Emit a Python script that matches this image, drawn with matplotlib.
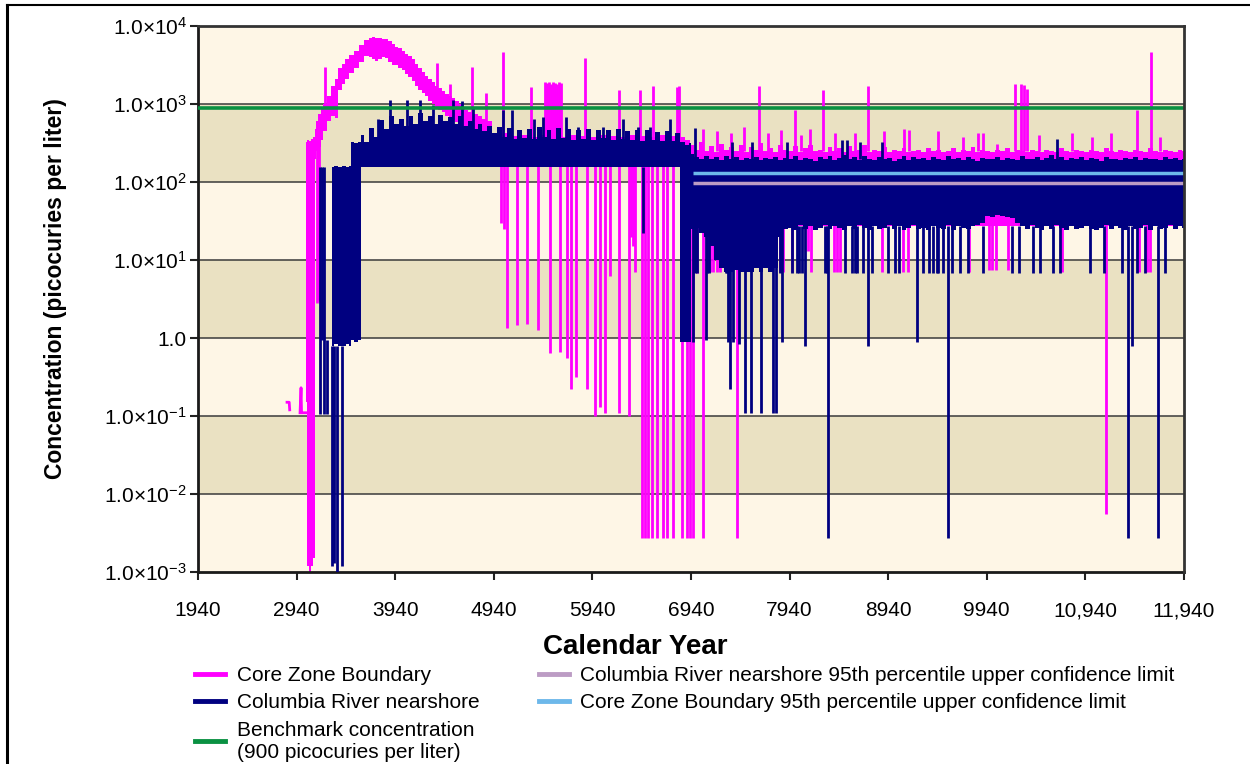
import numpy as np
import matplotlib
matplotlib.use('Agg')
import matplotlib.pyplot as plt
from matplotlib.lines import Line2D

plt.rcParams['font.family'] = ['Liberation Sans', 'DejaVu Sans']
plt.rcParams['mathtext.fontset'] = 'custom'
plt.rcParams['mathtext.rm'] = 'Liberation Sans'
plt.rcParams['mathtext.it'] = 'Liberation Sans:italic'
plt.rcParams['mathtext.bf'] = 'Liberation Sans:bold'

# ---------------- data ----------------
benchmark = 900
cz_ucl = 131          # Core Zone Boundary 95th UCL
cr_ucl = 96           # Columbia River nearshore 95th UCL
ucl_start = 6960

# Core Zone Boundary (magenta): first isolated bits
cz_early_years = [2843, 2865, 2870, np.nan, 2975, 2985, 2990, 3000, 3020, 3035]
cz_early_vals = [0.15, 0.15, 0.12, np.nan, 0.11, 0.23, 0.11, 0.11, 0.11, 0.11]

# rise + hump, envelope (upper / lower)
cz_hump_years = [3035, 3055, 3075, 3095, 3115, 3130, 3150, 3170, 3195, 3228, 3262, 3312,
                 3346, 3380, 3415, 3448, 3500, 3549, 3600, 3651, 3690, 3718, 3752, 3786,
                 3820, 3854, 3890, 3921, 3955, 3990, 4022, 4057, 4090, 4124, 4158, 4190,
                 4225, 4259, 4290, 4327, 4361, 4395, 4428, 4462, 4500, 4529, 4564, 4600,
                 4631, 4665, 4699, 4733, 4767, 4800, 4850, 4901]
cz_hump_hi = [330, 350, 340, 360, 380, 480, 600, 750, 900, 1000, 1260, 1700,
              2100, 2880, 3300, 3730, 4300, 4840, 5700, 6620, 7000, 7330, 7100, 6960,
              6900, 6900, 6400, 5950, 5400, 5200, 4840, 4400, 4100, 3730, 3300, 2900,
              2600, 2300, 2100, 1900, 1700, 1600, 1470, 1350, 1250, 1190, 1100, 1000,
              920, 850, 800, 750, 750, 700, 650, 610]
cz_hump_lo = [0.15, 0.0012, 0.001, 0.0012, 0.0015, 200, 250, 280, 350, 450, 600, 700,
              670, 1500, 1800, 2110, 2500, 2880, 3500, 4140, 4000, 3800, 3540, 3800,
              4000, 3930, 3500, 3200, 3200, 2900, 2700, 2460, 2200, 2000, 1715, 1500,
              1400, 1260, 1100, 1000, 920, 850, 800, 710, 650, 620, 580, 540,
              500, 490, 470, 440, 420, 400, 380, 350]

# plateau 4950-6900 (every 50 years), mostly hidden behind the navy series
cz_mid_start = 4950
cz_mid_hi = [380, 330, 420, 340, 390, 330, 400, 350, 380, 330,
             400, 340, 390, 330, 380, 350, 400, 330, 390, 340,
             380, 330, 400, 340, 390, 330, 380, 350, 400, 330,
             390, 340, 380, 330, 400, 340, 390, 330, 380, 350]
cz_mid_floor = 160

# 6950-11940 (every 50 years, last at 11940)
cz_late_hi = [300, 260, 330, 250, 290, 240, 310, 260, 280, 250,
              300, 240, 280, 260, 320, 250, 270, 240, 300, 260,
              250, 290, 240, 270, 300, 250, 260, 240, 280, 250,
              270, 240, 290, 250, 260, 300, 240, 260, 250, 280,
              240, 260, 250, 270, 240, 250, 260, 240, 270, 250,
              260, 240, 250, 270, 240, 260, 250, 280, 240, 260,
              250, 240, 260, 250, 270, 240, 260, 250, 240, 260,
              250, 240, 260, 250, 240, 270, 250, 240, 260, 250,
              240, 260, 250, 240, 270, 250, 240, 260, 250, 240,
              260, 250, 240, 270, 250, 240, 260, 250, 240, 260, 250]
cz_late_floor = 27

# magenta vertical excursions: year, top, bottom
cz_spikes = [
    (3150, 500, 2.8), (3165, 520, 3.0), (3228, 3000, 800), (4361, 3350, 1500),
    (4496, 1800, 900), (4716, 3000, 700), (4861, 1400, 600), (5030, 4650, 300),
    (5314, 1670, 300), (5460, 1900, 300), (5480, 1850, 300), (5500, 1900, 300),
    (5520, 1800, 300), (5540, 1900, 300), (5560, 1850, 300), (5580, 1800, 300),
    (5600, 1900, 300), (5620, 1850, 300), (5860, 3900, 300), (6213, 1500, 300),
    (6423, 1500, 300), (6554, 1700, 300), (6800, 1650, 300), (6815, 1700, 300),
    (7630, 1720, 250), (7995, 840, 250), (8276, 1490, 250), (8739, 1720, 250),
    (10226, 1800, 250), (10290, 1800, 250), (10315, 1750, 250), (10350, 1550, 250),
    (11004, 380, 250), (11463, 840, 250), (11606, 4600, 250),
    (7060, 480, 250), (7200, 450, 250), (7350, 420, 250), (7480, 500, 250),
    (7720, 430, 250), (7850, 460, 250), (8060, 400, 250), (8150, 480, 250),
    (8400, 420, 250), (8600, 430, 250), (8900, 450, 250), (9100, 480, 250),
    (9150, 470, 250), (9445, 445, 250), (9700, 380, 250), (9850, 420, 250),
    (9900, 420, 250), (10043, 310, 250), (10470, 400, 250), (10800, 430, 250),
    (11200, 420, 250), (11700, 380, 250),
    # drops
    (5010, 160, 30), (5040, 160, 25), (5071, 160, 1.35), (5178, 160, 1.45),
    (5274, 160, 1.5), (5388, 160, 1.25), (5510, 160, 0.65), (5611, 160, 0.66),
    (5679, 160, 0.55), (5720, 160, 0.22), (5774, 160, 0.32), (5882, 160, 0.22),
    (5966, 160, 0.1), (6017, 160, 0.13), (6068, 160, 0.11), (6118, 160, 6.3),
    (6213, 160, 0.11), (6314, 160, 0.1), (6330, 160, 20), (6350, 160, 15),
    (6372, 160, 7),
    (6440, 160, 0.0027), (6473, 160, 0.0027), (6507, 160, 0.0027), (6541, 160, 0.0027),
    (6592, 160, 0.0027), (6659, 160, 0.0027), (6693, 160, 0.0027), (6761, 160, 0.0027),
    (6846, 160, 0.0027), (6896, 160, 0.0027), (6930, 160, 0.0027), (6960, 160, 0.0027),
    (7062, 30, 0.0027), (7410, 30, 0.0027), (11150, 30, 0.0055),
    (6985, 30, 7), (7000, 30, 6.8), (7133, 30, 7), (7160, 30, 7), (7200, 30, 7),
    (7234, 30, 7), (7843, 30, 7), (7870, 30, 7), (7961, 30, 7), (8130, 30, 13),
    (8160, 30, 7), (8390, 30, 7), (8420, 30, 7), (8450, 30, 7), (8880, 30, 7),
    (9090, 30, 7), (9140, 30, 7), (9760, 30, 7), (9960, 30, 7.5), (9990, 30, 7.5),
    (10030, 30, 7.5), (10150, 30, 7.5), (10700, 30, 7), (11480, 30, 7),
    (11560, 30, 7), (11600, 30, 7),
]

# Columbia River nearshore (navy)
cr_early_years = [3300, 3340, 3380, 3420, 3460, 3490, 3500, 3540, 3580]
cr_early_hi = [158, 160, 158, 160, 158, 160, 330, 320, 330]
cr_early_lo = [0.8, 0.85, 0.8, 0.8, 0.85, 0.8, 0.93, 0.9, 0.95]

cr_mid_start = 3600   # every 50 years to 6800
cr_mid_hi = [400, 330, 490, 380, 620, 480, 700, 560, 650, 520,
             700, 560, 760, 600, 700, 560, 720, 600, 680, 560,
             700, 520, 600, 480, 560, 450, 520, 430, 500, 380,
             490, 360, 470, 370, 480, 360, 500, 380, 470, 360,
             490, 370, 480, 350, 470, 360, 480, 350, 460, 370,
             470, 350, 480, 360, 450, 350, 470, 340, 460, 350,
             440, 340, 450, 340, 420]
cr_mid_floor = 157

cr_block_years = [6850, 6900, 6940]
cr_block_hi = [330, 300, 320]
cr_block_lo = [0.9, 0.9, 0.9]

cr_late_hi = [230, 210, 200, 215, 195, 210, 190, 215, 200, 210,
              190, 205, 200, 210, 190, 205, 195, 210, 190, 205,
              195, 215, 190, 205, 200, 185, 210, 195, 215, 190,
              205, 220, 195, 210, 190, 215, 200, 190, 210, 195,
              205, 185, 200, 215, 190, 210, 195, 205, 190, 210,
              200, 190, 215, 195, 205, 190, 210, 200, 185, 205,
              200, 195, 210, 190, 205, 200, 190, 215, 200, 195,
              210, 190, 205, 220, 195, 210, 190, 205, 195, 210,
              190, 205, 200, 185, 210, 195, 200, 190, 205, 195,
              210, 190, 205, 195, 200, 190, 210, 195, 205, 190, 200]
cr_late_lo = [25, 26, 22, 20, 15, 10, 8, 7, 7, 7.5,
              7, 7, 7, 8, 7, 8, 7, 8, 20, 25,
              26, 24, 28, 25, 27, 24, 26, 28, 25, 27,
              26, 24, 27, 25, 28, 26, 24, 27, 25, 26,
              28, 25, 27, 24, 26, 28, 25, 26, 24, 27,
              26, 25, 28, 24, 27, 26, 25, 27, 28, 30,
              37, 36, 38, 37, 36, 35, 30, 27, 25, 28,
              26, 24, 27, 25, 28, 26, 24, 27, 25, 26,
              27, 25, 24, 26, 28, 25, 27, 26, 24, 27,
              25, 26, 28, 24, 27, 25, 26, 28, 25, 27, 26]

cr_spikes = [
    (3177, 158, 0.105), (3221, 158, 0.105), (3251, 0.93, 0.105), (3200, 158, 0.93),
    (3296, 0.8, 0.0012), (3347, 0.8, 0.001), (3397, 0.8, 0.0012), (3320, 0.8, 0.0013),
    (3769, 300, 640), (3887, 300, 1130), (4057, 300, 1130), (4191, 300, 1130),
    (4327, 300, 970), (4529, 300, 1130), (4614, 300, 1080), (4732, 300, 900),
    (5036, 300, 830), (5121, 300, 830), (5348, 300, 640), (5440, 300, 680),
    (5672, 300, 680), (5794, 300, 500), (6048, 300, 500), (6251, 300, 640),
    (6402, 300, 500), (6524, 300, 500), (6727, 300, 640), (6981, 200, 490),
    (6453, 155, 22),
    (7352, 200, 330), (7555, 200, 330), (7910, 200, 330), (8470, 200, 350),
    (8520, 200, 350), (8654, 200, 330), (8874, 200, 330), (10647, 200, 360),
    (6965, 27, 0.9), (7090, 27, 0.95), (7320, 27, 0.9), (7340, 27, 0.22),
    (7366, 27, 0.9), (7430, 27, 0.85), (7488, 27, 0.11), (7549, 27, 0.11),
    (7650, 27, 0.11), (7775, 27, 0.11), (7800, 27, 0.11), (7860, 27, 0.9),
    (8096, 27, 0.8), (8333, 27, 0.0027), (8739, 27, 0.8), (9229, 27, 0.9),
    (9543, 27, 0.0027), (11369, 27, 0.0027), (11410, 27, 0.8), (11674, 27, 0.0027),
]
cr_to_seven = [6981, 7000, 7099, 7120, 7290, 7302, 7843, 7961, 8012, 8040, 8063,
               8299, 8320, 8502, 8570, 8600, 8621, 8688, 8773, 8942, 9009, 9053,
               9297, 9358, 9398, 9432, 9449, 9500, 9584, 9669, 9746, 9905, 10193,
               10267, 10412, 10480, 10615, 10683, 10987, 11133, 11308, 11461,
               11545, 11748]
cr_seven_level = 6.8

x_ticks = [1940, 2940, 3940, 4940, 5940, 6940, 7940, 8940, 9940, 10940, 11940]
x_tick_labels = ['1940', '2940', '3940', '4940', '5940', '6940', '7940', '8940',
                 '9940', '10,940', '11,940']
y_ticks = [1e-3, 1e-2, 1e-1, 1, 1e1, 1e2, 1e3, 1e4]
y_tick_labels = [r'$\mathregular{1.0{\times}10^{-3}}$', r'$\mathregular{1.0{\times}10^{-2}}$',
                 r'$\mathregular{1.0{\times}10^{-1}}$', '1.0',
                 r'$\mathregular{1.0{\times}10^{1}}$', r'$\mathregular{1.0{\times}10^{2}}$',
                 r'$\mathregular{1.0{\times}10^{3}}$', r'$\mathregular{1.0{\times}10^{4}}$']

# ---------------- assemble ----------------
cz_mid_years = cz_mid_start + 50 * np.arange(len(cz_mid_hi))
late_years = np.append(6950 + 50 * np.arange(len(cz_late_hi) - 1), 11940)

cz_years = np.concatenate([cz_hump_years, cz_mid_years, late_years])
cz_hi = np.concatenate([cz_hump_hi, cz_mid_hi, cz_late_hi])
cz_lo = np.concatenate([cz_hump_lo, np.full(len(cz_mid_hi), cz_mid_floor),
                        np.full(len(cz_late_hi), cz_late_floor)])

cr_mid_years = cr_mid_start + 50 * np.arange(len(cr_mid_hi))
cr_years = np.concatenate([cr_early_years, cr_mid_years, cr_block_years, late_years])
cr_hi = np.concatenate([cr_early_hi, cr_mid_hi, cr_block_hi, cr_late_hi])
cr_lo = np.concatenate([cr_early_lo, np.full(len(cr_mid_hi), cr_mid_floor),
                        cr_block_lo, cr_late_lo])

MAGENTA = '#FF00FF'
NAVY = '#000080'
GREEN = '#0A9142'
LBLUE = '#6DB8EA'
MAUVE = '#BC9CC4'
CREAM = '#FEF6E6'
TAN = '#EAE1C2'

fig = plt.figure(figsize=(12.5, 7.64), dpi=100)
ax = fig.add_axes([198 / 1250, 1 - 572 / 764, 986 / 1250, 546 / 764])
ax.set_yscale('log')
ax.set_xlim(1940, 11940)
ax.set_ylim(1e-3, 1e4)
ax.set_facecolor(CREAM)
for lo, hi in [(1e2, 1e3), (1, 1e1), (1e-2, 1e-1)]:
    ax.axhspan(lo, hi, color=TAN, lw=0, zorder=0)
for v in y_ticks[1:-1]:
    ax.axhline(v, color='#3a3a3a', lw=1.1, zorder=0.5)

# magenta series
ax.plot(cz_early_years, cz_early_vals, color=MAGENTA, lw=2, zorder=2)
ax.fill_between(cz_years, cz_lo, cz_hi, step='mid', color=MAGENTA, lw=0, zorder=2)
sy, st, sb = zip(*cz_spikes)
ax.vlines(sy, sb, st, color=MAGENTA, lw=2, zorder=2)

# navy series
ax.fill_between(cr_years, cr_lo, cr_hi, step='mid', color=NAVY, lw=0, zorder=3)
sy, st, sb = zip(*cr_spikes)
ax.vlines(sy, sb, st, color=NAVY, lw=2, zorder=3)
ax.vlines(cr_to_seven, cr_seven_level, 27, color=NAVY, lw=2, zorder=3)

# reference lines
ax.hlines(cr_ucl, ucl_start, 11940, color=MAUVE, lw=2.5, zorder=4)
ax.hlines(cz_ucl, ucl_start, 11940, color=LBLUE, lw=2.5, zorder=4)
ax.axhline(benchmark, color=GREEN, lw=2.6, zorder=5)

ax.set_xticks(x_ticks)
ax.set_xticklabels(x_tick_labels, fontsize=15)
ax.set_yticks(y_ticks)
ax.set_yticklabels(y_tick_labels, fontsize=15)
ax.minorticks_off()
ax.tick_params(axis='both', direction='out', length=6, width=1.5, color='#222222')
ax.tick_params(axis='x', pad=15)
ax.tick_params(axis='y', pad=2)
for s in ['left', 'bottom']:
    ax.spines[s].set_linewidth(2)
    ax.spines[s].set_color('#1a1a1a')
for s in ['top', 'right']:
    ax.spines[s].set_linewidth(2)
    ax.spines[s].set_color('#333333')
    ax.spines[s].set_zorder(6)

ax.set_xlabel('Calendar Year', fontsize=20, fontweight='bold')
ax.xaxis.set_label_coords(0.443, -0.114)
ax.set_ylabel('Concentration (picocuries per liter)', fontsize=16.5, fontweight='bold')
ax.yaxis.set_label_coords(-0.133, 0.519)

handles = [
    Line2D([], [], color=MAGENTA, lw=3.5),
    Line2D([], [], color=NAVY, lw=3.5),
    Line2D([], [], color=GREEN, lw=3.5),
    Line2D([], [], color=MAUVE, lw=3.5),
    Line2D([], [], color=LBLUE, lw=3.5),
]
labels = ['Core Zone Boundary', 'Columbia River nearshore',
          'Benchmark concentration\n(900 picocuries per liter)',
          'Columbia River nearshore 95th percentile upper confidence limit',
          'Core Zone Boundary 95th percentile upper confidence limit']
fig.legend(handles, labels, loc='upper left', bbox_to_anchor=(195 / 1250, 1 - 666 / 764),
           ncol=2, frameon=False, fontsize=15, handlelength=1.45, handletextpad=0.55,
           columnspacing=2.85, labelspacing=0.4, borderpad=0, borderaxespad=0)

# figure frame (top and left)
fig.add_artist(Line2D([7 / 1250, 7 / 1250], [0, 1 - 5 / 764], color='black', lw=2.2))
fig.add_artist(Line2D([7 / 1250, 1], [1 - 5 / 764, 1 - 5 / 764], color='black', lw=1.5))

fig.savefig('out.png', dpi=100, facecolor='white')
